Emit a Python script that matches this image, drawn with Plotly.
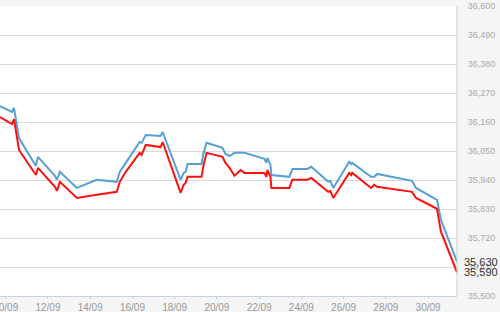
import plotly.graph_objects as go

times = [
    "2014-09-09 17:30", "2014-09-10 07:10", "2014-09-10 09:25", "2014-09-10 15:05",
    "2014-09-11 10:20", "2014-09-11 12:40", "2014-09-12 07:55", "2014-09-12 10:10",
    "2014-09-12 13:35", "2014-09-13 08:50", "2014-09-14 07:30", "2014-09-15 06:10",
    "2014-09-15 09:35", "2014-09-15 14:05", "2014-09-15 16:25", "2014-09-16 08:15",
    "2014-09-16 10:30", "2014-09-16 15:05", "2014-09-17 08:05", "2014-09-17 10:20",
    "2014-09-18 06:45", "2014-09-18 10:10", "2014-09-18 12:25", "2014-09-18 14:40",
    "2014-09-19 06:30", "2014-09-19 08:50", "2014-09-19 12:15", "2014-09-20 06:20",
    "2014-09-20 09:45", "2014-09-20 14:20", "2014-09-20 20:00", "2014-09-21 02:50",
    "2014-09-21 07:20", "2014-09-22 06:00", "2014-09-22 08:15", "2014-09-22 09:25",
    "2014-09-22 12:50", "2014-09-22 13:55", "2014-09-23 10:20", "2014-09-23 13:45",
    "2014-09-24 06:45", "2014-09-24 11:15", "2014-09-25 06:30", "2014-09-25 08:50",
    "2014-09-25 12:15", "2014-09-26 06:20", "2014-09-26 08:40", "2014-09-26 09:45",
    "2014-09-27 07:15", "2014-09-27 10:40", "2014-09-27 14:05", "2014-09-29 05:45",
    "2014-09-29 10:15", "2014-09-30 10:05", "2014-09-30 14:35", "2014-10-01 08:50",
]

blue = [
    36220, 36198, 36213, 36099, 35993, 36028, 35956, 35941,
    35971, 35910, 35941, 35933, 35971, 35997, 36005, 36084,
    36081, 36111, 36107, 36122, 35941, 35967, 35971, 36001,
    36001, 36043, 36081, 36062, 36039, 36031, 36043, 36043,
    36043, 36020, 36005, 36024, 35997, 35959, 35952, 35982,
    35982, 35990, 35933, 35937, 35910, 36009, 36001, 36005,
    35952, 35952, 35963, 35937, 35910, 35865, 35789, 35630,
]

red = [
    36179, 36152, 36171, 36054, 35959, 35986, 35914, 35899,
    35933, 35872, 35884, 35895, 35933, 35959, 35971, 36043,
    36035, 36073, 36065, 36084, 35891, 35922, 35929, 35952,
    35952, 35997, 36043, 36028, 36005, 35986, 35956, 35978,
    35967, 35967, 35952, 35978, 35952, 35910, 35910, 35941,
    35941, 35948, 35895, 35899, 35872, 35967, 35959, 35967,
    35910, 35922, 35914, 35895, 35872, 35831, 35744, 35590,
]

y_ticks = [35500, 35610, 35720, 35830, 35940, 36050, 36160, 36270, 36380, 36490, 36600]
x_ticks = ["2014-09-10", "2014-09-12", "2014-09-14", "2014-09-16", "2014-09-18",
           "2014-09-20", "2014-09-22", "2014-09-24", "2014-09-26", "2014-09-28", "2014-09-30"]
x_tick_labels = ["10/09", "12/09", "14/09", "16/09", "18/09", "20/09",
                 "22/09", "24/09", "26/09", "28/09", "30/09"]

fig = go.Figure()
fig.add_trace(go.Scatter(x=times, y=blue, mode="lines",
                         line=dict(color="#56a0d3", width=2), showlegend=False))
fig.add_trace(go.Scatter(x=times, y=red, mode="lines",
                         line=dict(color="#ff1010", width=2), showlegend=False))

for v in (blue[-1], red[-1]):
    fig.add_annotation(x=1, xref="paper", y=v, yref="y", xanchor="left",
                       xshift=5, text=f"{v:,}", showarrow=False,
                       font=dict(family="Liberation Sans, Arial", size=11, color="#333333"))

fig.add_shape(type="line", xref="paper", yref="paper", x0=1, x1=1, y0=0, y1=1,
              line=dict(color="#cccccc", width=1))

fig.update_layout(
    width=500, height=312,
    margin=dict(l=0, r=43, t=6, b=16),
    paper_bgcolor="#f5f5f5",
    plot_bgcolor="#ffffff",
    font=dict(family="Liberation Sans, Arial", size=10, color="#999999"),
    xaxis=dict(
        type="date", range=[times[0], times[-1]],
        tickvals=x_ticks, ticktext=x_tick_labels,
        showgrid=False, zeroline=False,
        showline=True, linecolor="#c6d2e2", linewidth=1,
        ticks="outside", ticklen=2, tickcolor="#c6d2e2",
        tickfont=dict(size=10, color="#999999"),
        ticklabeloverflow="allow", automargin=False,
    ),
    yaxis=dict(
        side="right", range=[35500, 36600],
        tickvals=y_ticks, ticktext=[f"{v:,}" for v in y_ticks],
        showgrid=True, gridcolor="#d9d9d9", gridwidth=1,
        zeroline=False, showline=False, automargin=False,
        ticks="outside", ticklen=8, tickcolor="rgba(0,0,0,0)",
        tickfont=dict(size=9, color="#aaaaaa"),
    ),
)

fig.write_html("out.html")
